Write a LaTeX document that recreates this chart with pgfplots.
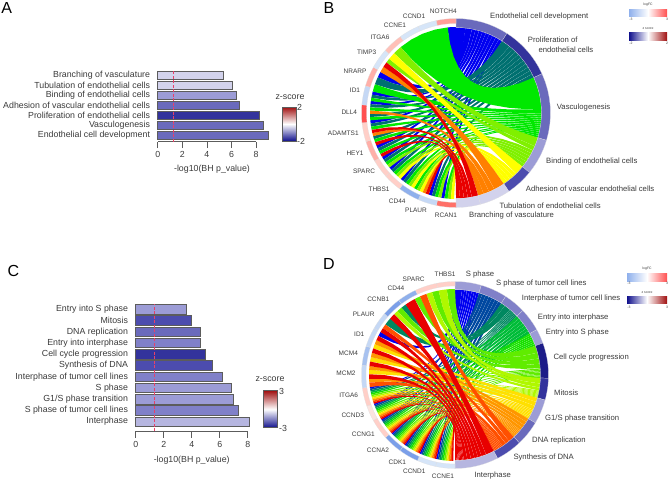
\documentclass[border=0pt]{standalone}
\usepackage{fontspec}
\setmainfont{Liberation Sans}
\usepackage{pgfplots}
\pgfplotsset{compat=1.18}

% palette: gene ring (logFC)
\definecolor{lb1}{HTML}{D6E5F8}\definecolor{lb2}{HTML}{C5D8F5}\definecolor{lb3}{HTML}{A8C2F0}
\definecolor{lb4}{HTML}{8FB0EC}\definecolor{lb5}{HTML}{7B9FE9}
\definecolor{pk0}{HTML}{FBE4E0}\definecolor{pk1}{HTML}{FFCFC8}\definecolor{pk2}{HTML}{FFC0B8}
\definecolor{pk3}{HTML}{FFAFA8}\definecolor{pk4}{HTML}{FF9F98}\definecolor{pk5}{HTML}{FF7068}
\definecolor{pk6}{HTML}{FF5050}
% palette: term ring and bars (z-score)
\definecolor{tb1}{HTML}{D2D2EC}\definecolor{tb2}{HTML}{B6B6E0}\definecolor{tb3}{HTML}{9C9CD6}
\definecolor{tb4}{HTML}{8080C8}\definecolor{tb5}{HTML}{6A6ABC}\definecolor{tb6}{HTML}{4C4CAE}
\definecolor{tb7}{HTML}{33339C}\definecolor{tb8}{HTML}{1C1C88}
% ribbons, panel B
\definecolor{b1}{HTML}{0000F0}\definecolor{b2}{HTML}{007070}\definecolor{b3}{HTML}{00E800}
\definecolor{b4}{HTML}{80F000}\definecolor{b5}{HTML}{FFFF00}\definecolor{b6}{HTML}{FF8000}
\definecolor{b7}{HTML}{E80000}
% ribbons, panel D
\definecolor{d1}{HTML}{0000F0}\definecolor{d2}{HTML}{0048A0}\definecolor{d3}{HTML}{008860}
\definecolor{d4}{HTML}{00BC38}\definecolor{d5}{HTML}{18E000}\definecolor{d6}{HTML}{60EC00}
\definecolor{d7}{HTML}{B0F800}\definecolor{d8}{HTML}{FFE000}\definecolor{d9}{HTML}{FF9600}
\definecolor{d10}{HTML}{FF5000}\definecolor{d11}{HTML}{E80000}
\definecolor{txt}{HTML}{3A3A3A}
\definecolor{barline}{HTML}{5C5C5C}
\definecolor{cutoff}{HTML}{E8406A}
\definecolor{zred}{HTML}{A01010}
\definecolor{znavy}{HTML}{10108C}

% links of the chord panels: term number / width on the gene side in degrees, top to bottom
\def\seqB{1/5.6,3/34.4,4/6,5/5,4/3,7/3.5,6/4,1/4,2/5,3/5,
1/2.15,2/2.15,3/2.15,1/2.15,2/2.15,3/2.15,6/2.15,2/2.15,3/2.15,1/2.15,2/2.15,3/2.15,
7/2.15,6/2.15,2/2.15,3/2.15,7/2.15,1/2.15,2/2.15,3/2.15,7/2.15,1/2.15,2/2.15,3/2.15,4/2.15,
1/2.15,2/2.15,3/2.15,4/2.15,5/2.15,1/2.15,2/2.15,3/2.15,4/2.15,5/2.15,
3/2.15,4/2.15,5/2.15,6/2.15,7/2.15,1/2.15,2/2.15,3/2.15,4/2.15,1/2.15,3/2.15,4/2.15,5/2.15}
\def\termsB{0/32.6,32.6/65.5,65.5/106.8,106.8/129,129/146,146/165,165/180}
\def\seqD{6/5.5,7/5.5,6/4.5,7/4,10/4.5,6/4,11/7,3/3.5,6/3.5,7/3,11/4,3/5,
10/3,11/3,1/3,11/3,9/3,8/3,11/3,9/3,8/3,11/3,9/2.5,8/3,11/3,9/2.5,10/3,
1/1.05,2/1.05,3/1.05,4/1.05,5/1.05,6/1.05,7/1.05,8/1.05,9/1.05,10/1.05,11/1.05,
1/1.05,2/1.05,3/1.05,4/1.05,5/1.05,6/1.05,7/1.05,8/1.05,9/1.05,10/1.05,11/1.05,
1/1.05,2/1.05,3/1.05,4/1.05,5/1.05,6/1.05,7/1.05,8/1.05,9/1.05,10/1.05,11/1.05,
1/1.05,2/1.05,3/1.05,4/1.05,5/1.05,6/1.05,7/1.05,8/1.05,9/1.05,10/1.05,11/1.05,
1/1.05,2/1.05,3/1.05,4/1.05,5/1.05,6/1.05,7/1.05,8/1.05,9/1.05,10/1.05,11/1.05,
1/1.05,2/1.05,3/1.05,4/1.05,5/1.05,6/1.05,7/1.05,8/1.05,9/1.05,10/1.05,11/1.05,
1/1.05,2/1.05,3/1.05,4/1.05,5/1.05,6/1.05,7/1.05,8/1.05,9/1.05,10/1.05,11/1.05}
\def\termsD{0/16.3,16.3/32.8,32.8/46.4,46.4/61,61/70,70/92,92/105.5,105.5/120.8,120.8/136.5,136.5/153,153/180}

% ring segments: start/end angle (clockwise from the top)/colour
\def\ringsB{0/32.6/tb5,32.6/65.5/tb7,65.5/106.8/tb5,106.8/129/tb3,129/146/tb6,146/165/tb1,165/180/tb1}
\def\genesB{180/192/pk5,192/203.5/lb2,203.5/216.7/lb4,216.7/228/pk1,228/239.5/pk1,239.5/252.4/pk3,
252.4/264/pk1,264/275/pk6,275/286.7/lb2,286.7/299/pk3,299/311.5/lb1,311.5/324/pk2,324/336.4/lb1,336.4/348/lb1,348/360/pk4}
\def\ringsD{0/16.3/tb3,16.3/32.8/tb4,32.8/46.4/tb4,46.4/61/tb4,61/70/tb3,70/92/tb8,92/105.5/tb7,105.5/120.8/tb3,120.8/136.5/tb5,136.5/153/tb6,153/180/tb2}
\def\genesD{180/192/lb1,192/203.7/lb1,203.7/216/lb5,216/228/lb5,228/241/pk1,241/250.6/pk0,250.6/262/pk1,
262/276/lb2,276/288/lb3,288/300/lb2,300/311/lb2,311/323/lb5,323/335/lb4,335/348.7/pk1,348.7/360/pk1}

% curve with its control point at the circle's centre
\newcommand\edgepts[4]{%
  \pgfmathsetmacro\ax{#2*sin(#1)}\pgfmathsetmacro\ay{-#2*cos(#1)}%
  \pgfmathsetmacro\bx{#4*sin(#3)}\pgfmathsetmacro\by{-#4*cos(#3)}%
  \foreach \uu/\vv in {1/0,.81/.01,.64/.04,.49/.09,.36/.16,.25/.25,.16/.36,.09/.49,.04/.64,.01/.81,0/1}{%
    \pgfmathsetmacro\px{\cx+\uu*\ax+\vv*\bx}\pgfmathsetmacro\py{\cy+\uu*\ay+\vv*\by}%
    \xdef\pts{\pts(\px,\py)}}}
\newcommand\arcpts[3]{%
  \foreach \ff in {.25,.5,.75}{%
    \pgfmathsetmacro\aa{#1+(#2-#1)*\ff}%
    \pgfmathsetmacro\px{\cx+#3*sin(\aa)}\pgfmathsetmacro\py{\cy-#3*cos(\aa)}%
    \xdef\pts{\pts(\px,\py)}}}
% gene angles #1 #2, term angles #3 #4, colour #5
\newcommand\ribbon[5]{%
  \gdef\pts{}%
  \edgepts{#1}{86}{#3}{85.5}\arcpts{#3}{#4}{85.5}\edgepts{#4}{85.5}{#2}{86}\arcpts{#2}{#1}{86}%
  \edef\temp{\noexpand\addplot[fill=#5,draw=none] coordinates {\pts} -- cycle;}\temp}
% sequence #1, terms #2, number of terms #3, colour prefix #4, first gene angle #5
\newcommand\chords[5]{%
  \foreach \ss/\ee [count=\kk] in #2{%
    \expandafter\xdef\csname ts\kk\endcsname{\ss}%
    \expandafter\xdef\csname te\kk\endcsname{\ee}%
    \expandafter\xdef\csname tw\kk\endcsname{0}}%
  \foreach \tm/\gw in #1{%
    \pgfmathsetmacro\nn{\csname tw\tm\endcsname+\gw}%
    \expandafter\xdef\csname tw\tm\endcsname{\nn}}%
  \foreach \kk in {1,...,#3}{%
    \xdef\gcur{#5}%
    \expandafter\xdef\csname tc\kk\endcsname{\csname ts\kk\endcsname}%
    \foreach \tm/\gw in #1{%
      \pgfmathsetmacro\gnext{\gcur-\gw}%
      \ifnum\tm=\kk\relax
        \pgfmathsetmacro\tstep{\gw*(\csname te\kk\endcsname-\csname ts\kk\endcsname)/\csname tw\kk\endcsname}%
        \pgfmathsetmacro\tA{\csname tc\kk\endcsname+0.04}%
        \pgfmathsetmacro\tB{\csname tc\kk\endcsname+\tstep-0.04}%
        \pgfmathsetmacro\tC{\csname tc\kk\endcsname+\tstep}%
        \expandafter\xdef\csname tc\kk\endcsname{\tC}%
        \ribbon{\gcur}{\gnext}{\tA}{\tB}{#4\kk}%
      \fi
      \xdef\gcur{\gnext}}}}
% ring segments: list #1, inner radius #2, outer radius #3
\newcommand\rings[3]{%
  \foreach \ra/\rb/\rc in #1{%
    \gdef\pts{}%
    \foreach \ff in {0,.125,.25,.375,.5,.625,.75,.875,1}{%
      \pgfmathsetmacro\aa{\ra+(\rb-\ra)*\ff}%
      \pgfmathsetmacro\px{\cx+#3*sin(\aa)}\pgfmathsetmacro\py{\cy-#3*cos(\aa)}%
      \xdef\pts{\pts(\px,\py)}}%
    \foreach \ff in {1,.875,.75,.625,.5,.375,.25,.125,0}{%
      \pgfmathsetmacro\aa{\ra+(\rb-\ra)*\ff}%
      \pgfmathsetmacro\px{\cx+#2*sin(\aa)}\pgfmathsetmacro\py{\cy-#2*cos(\aa)}%
      \xdef\pts{\pts(\px,\py)}}%
    \edef\temp{\noexpand\addplot[fill=\rc,draw=white!75!gray,line width=0.2pt] coordinates {\pts} -- cycle;}\temp}}

\tikzset{
  lab/.style={inner sep=0pt,text=txt,font=\fontsize{7.7}{9}\selectfont},
  gene/.style={inner sep=0pt,text=txt,font=\fontsize{6.5}{8}\selectfont},
  big/.style={inner sep=0pt,text=txt,font=\fontsize{8.8}{10}\selectfont},
  tiny/.style={inner sep=0pt,text=txt,font=\fontsize{3.4}{4}\selectfont},
  letter/.style={inner sep=0pt,text=black,font=\fontsize{16}{18}\selectfont},
}
\pgfplotsset{
  barpanel/.style={
    scale only axis,
    axis lines*=left,
    axis line style={draw=none},
    clip=false,
    tick align=outside,
    major tick length=6.5pt,
    xtick style={draw=barline,line width=0.8pt},
    ytick style={draw=none},
    x tick label style={font=\fontsize{8.8}{10}\selectfont,text=txt},
    y tick label style={font=\fontsize{8.8}{10}\selectfont,text=txt,inner sep=0pt,xshift=-1pt},
    /pgf/number format/assume math mode=true,
    xtick={0,2,...,8},
  },
  onebar/.style={xbar,bar shift=0pt,draw=barline,line width=0.8pt,fill=#1},
  cutline/.style={cutoff,line width=0.9pt,dash pattern=on 3pt off 1.5pt},
}

\begin{document}
\begin{tikzpicture}[x=1pt,y=1pt]
\path[use as bounding box] (0,0) rectangle (669pt,480pt);

% panel A
\begin{axis}[barpanel,at={(157.7pt,338.3pt)},anchor=south west,
  width=113.2pt,height=71.4pt,xmin=0,xmax=9.2,ymin=0.36,ymax=7.5,
  ytick={1,...,7},
  yticklabels={Endothelial cell development,Vasculogenesis,Proliferation of endothelial cells,Adhesion of vascular endothelial cells,Binding of endothelial cells,Tubulation of endothelial cells,Branching of vasculature},
  every axis plot/.append style={bar width=8.5pt}]
\addplot[onebar=tb5] coordinates {(9.0,1)};
\addplot[onebar=tb5] coordinates {(8.6,2)};
\addplot[onebar=tb7] coordinates {(8.3,3)};
\addplot[onebar=tb5] coordinates {(6.67,4)};
\addplot[onebar=tb3] coordinates {(6.4,5)};
\addplot[onebar=tb1] coordinates {(6.07,6)};
\addplot[onebar=tb1] coordinates {(5.31,7)};
\addplot[barline,line width=0.8pt] coordinates {(0,0.36)(8,0.36)};
\addplot[cutline] coordinates {(1.32,0.36)(1.32,7.5)};
\end{axis}

% panel C
\begin{axis}[barpanel,at={(135.7pt,49pt)},anchor=south west,
  width=117.6pt,height=127.3pt,xmin=0,xmax=8.4,ymin=0.173,ymax=11.5,
  ytick={1,...,11},
  yticklabels={Interphase,S phase of tumor cell lines,G1/S phase transition,S phase,Interphase of tumor cell lines,Synthesis of DNA,Cell cycle progression,Entry into interphase,DNA replication,Mitosis,Entry into S phase},
  every axis plot/.append style={bar width=9.5pt}]
\addplot[onebar=tb2] coordinates {(8.12,1)};
\addplot[onebar=tb4] coordinates {(7.33,2)};
\addplot[onebar=tb3] coordinates {(6.98,3)};
\addplot[onebar=tb3] coordinates {(6.81,4)};
\addplot[onebar=tb4] coordinates {(6.17,5)};
\addplot[onebar=tb6] coordinates {(5.5,6)};
\addplot[onebar=tb7] coordinates {(5.0,7)};
\addplot[onebar=tb4] coordinates {(4.64,8)};
\addplot[onebar=tb5] coordinates {(4.62,9)};
\addplot[onebar=tb6] coordinates {(4.0,10)};
\addplot[onebar=tb3] coordinates {(3.62,11)};
\addplot[barline,line width=0.8pt] coordinates {(0,0.173)(8,0.173)};
\addplot[cutline] coordinates {(1.31,0.173)(1.31,11.5)};
\end{axis}

% panels B and D and all free text, in pixel coordinates of the reference
\begin{axis}[at={(0,0)},anchor=south west,scale only axis,width=669pt,height=480pt,
  xmin=0,xmax=669,ymin=0,ymax=480,y dir=reverse,hide axis,clip=false]

\gdef\cx{456}\gdef\cy{113}
\chords{\seqB}{\termsB}{7}{b}{360}
\rings{\ringsB}{85.5}{94.5}
\rings{\genesB}{89.5}{94.5}

\gdef\cx{455}\gdef\cy{375}
\chords{\seqD}{\termsD}{11}{d}{360}
\rings{\ringsD}{85.5}{93.5}
\rings{\genesD}{89}{93.5}

\node[letter] at (axis cs:6.7,7.5) {A};
\node[letter] at (axis cs:329,7.5) {B};
\node[letter] at (axis cs:13.5,270.7) {C};
\node[letter] at (axis cs:329,264) {D};

\node[big] at (axis cs:212,169) {-log10(BH p\_value)};
\node[big] at (axis cs:191.7,460) {-log10(BH p\_value)};
\node[big] at (axis cs:290,97) {z-score};
\node[big] at (axis cs:270,379) {z-score};
\node[big,anchor=west] at (axis cs:297,107) {2};
\node[big,anchor=west] at (axis cs:297,141) {-2};
\node[big,anchor=west] at (axis cs:279,391) {3};
\node[big,anchor=west] at (axis cs:279,428) {-3};
\shade[top color=zred,bottom color=znavy,middle color=white] (axis cs:282,107) rectangle (axis cs:296,141);
\draw[barline,line width=0.6pt] (axis cs:282,107) rectangle (axis cs:296,141);
\shade[top color=zred,bottom color=znavy,middle color=white] (axis cs:263.3,390.7) rectangle (axis cs:277.7,427.7);
\draw[barline,line width=0.6pt] (axis cs:263.3,390.7) rectangle (axis cs:277.7,427.7);

% legends of B
\shade[left color=lb4,right color=pk6,middle color=white] (axis cs:629,9.3) rectangle (axis cs:667,16.7);
\shade[left color=znavy,right color=zred,middle color=white] (axis cs:629,32.7) rectangle (axis cs:667,40);
\node[tiny] at (axis cs:648,5) {logFC};
\node[tiny] at (axis cs:631,19.5) {-3};
\node[tiny] at (axis cs:667,19.5) {3};
\node[tiny] at (axis cs:648,29) {z score};
\node[tiny] at (axis cs:631,43) {-2};
\node[tiny] at (axis cs:667,43) {2};
% legends of D
\shade[left color=lb4,right color=pk6,middle color=white] (axis cs:627,273) rectangle (axis cs:667,281);
\shade[left color=znavy,right color=zred,middle color=white] (axis cs:627,296.7) rectangle (axis cs:667,303.3);
\node[tiny] at (axis cs:647,269) {logFC};
\node[tiny] at (axis cs:629,283.5) {-3};
\node[tiny] at (axis cs:667,283.5) {3};
\node[tiny] at (axis cs:647,292.7) {z score};
\node[tiny] at (axis cs:629,307) {-3};
\node[tiny] at (axis cs:667,307) {3};

% gene names of B
\node[gene] at (axis cs:443.3,11.7) {NOTCH4};
\node[gene] at (axis cs:414,16.7) {CCND1};
\node[gene] at (axis cs:395,25.7) {CCNE1};
\node[gene] at (axis cs:380,37.7) {ITGA6};
\node[gene] at (axis cs:366.7,52.3) {TIMP3};
\node[gene] at (axis cs:355,71.7) {NRARP};
\node[gene] at (axis cs:355,90.3) {ID1};
\node[gene] at (axis cs:349.3,112.7) {DLL4};
\node[gene] at (axis cs:343.3,133.7) {ADAMTS1};
\node[gene] at (axis cs:355,153.7) {HEY1};
\node[gene] at (axis cs:364,171.7) {SPARC};
\node[gene] at (axis cs:379,189.3) {THBS1};
\node[gene] at (axis cs:397.3,201) {CD44};
\node[gene] at (axis cs:416,210.3) {PLAUR};
\node[gene] at (axis cs:446,215.3) {RCAN1};
% term names of B
\node[lab,anchor=west] at (axis cs:490,16.7) {Endothelial cell development};
\node[lab,anchor=west] at (axis cs:527.7,40) {Proliferation of};
\node[lab,anchor=west] at (axis cs:538.3,49.3) {endothelial cells};
\node[lab,anchor=west] at (axis cs:556.7,107.3) {Vasculogenesis};
\node[lab,anchor=west] at (axis cs:546,161.3) {Binding of endothelial cells};
\node[lab,anchor=west] at (axis cs:525.7,188.7) {Adhesion of vascular endothelial cells};
\node[lab,anchor=west] at (axis cs:499.3,206) {Tubulation of endothelial cells};
\node[lab,anchor=west] at (axis cs:469,216) {Branching of vasculature};

% gene names of D
\node[gene] at (axis cs:445,274.3) {THBS1};
\node[gene] at (axis cs:413.7,279.3) {SPARC};
\node[gene] at (axis cs:396,288.3) {CD44};
\node[gene] at (axis cs:378.3,299.7) {CCNB1};
\node[gene] at (axis cs:363.7,314.7) {PLAUR};
\node[gene] at (axis cs:359.3,334.3) {ID1};
\node[gene] at (axis cs:348.3,353.3) {MCM4};
\node[gene] at (axis cs:346,373.7) {MCM2};
\node[gene] at (axis cs:348.7,395.7) {ITGA6};
\node[gene] at (axis cs:352.7,415.7) {CCND3};
\node[gene] at (axis cs:363.3,434.3) {CCNG1};
\node[gene] at (axis cs:378,450.3) {CCNA2};
\node[gene] at (axis cs:397.3,462.7) {CDK1};
\node[gene] at (axis cs:414.3,471.3) {CCND1};
\node[gene] at (axis cs:443,476.3) {CCNE1};
% term names of D
\node[lab,anchor=west] at (axis cs:465.7,274.3) {S phase};
\node[lab,anchor=west] at (axis cs:496,283.3) {S phase of tumor cell lines};
\node[lab,anchor=west] at (axis cs:521.7,299) {Interphase of tumor cell lines};
\node[lab,anchor=west] at (axis cs:537.7,318) {Entry into interphase};
\node[lab,anchor=west] at (axis cs:545.7,332.3) {Entry into S phase};
\node[lab,anchor=west] at (axis cs:553.3,357.3) {Cell cycle progression};
\node[lab,anchor=west] at (axis cs:554,392.3) {Mitosis};
\node[lab,anchor=west] at (axis cs:545,419) {G1/S phase transition};
\node[lab,anchor=west] at (axis cs:532,440.7) {DNA replication};
\node[lab,anchor=west] at (axis cs:513.3,457.7) {Synthesis of DNA};
\node[lab,anchor=west] at (axis cs:474.3,475) {Interphase};
\end{axis}
\end{tikzpicture}
\end{document}
